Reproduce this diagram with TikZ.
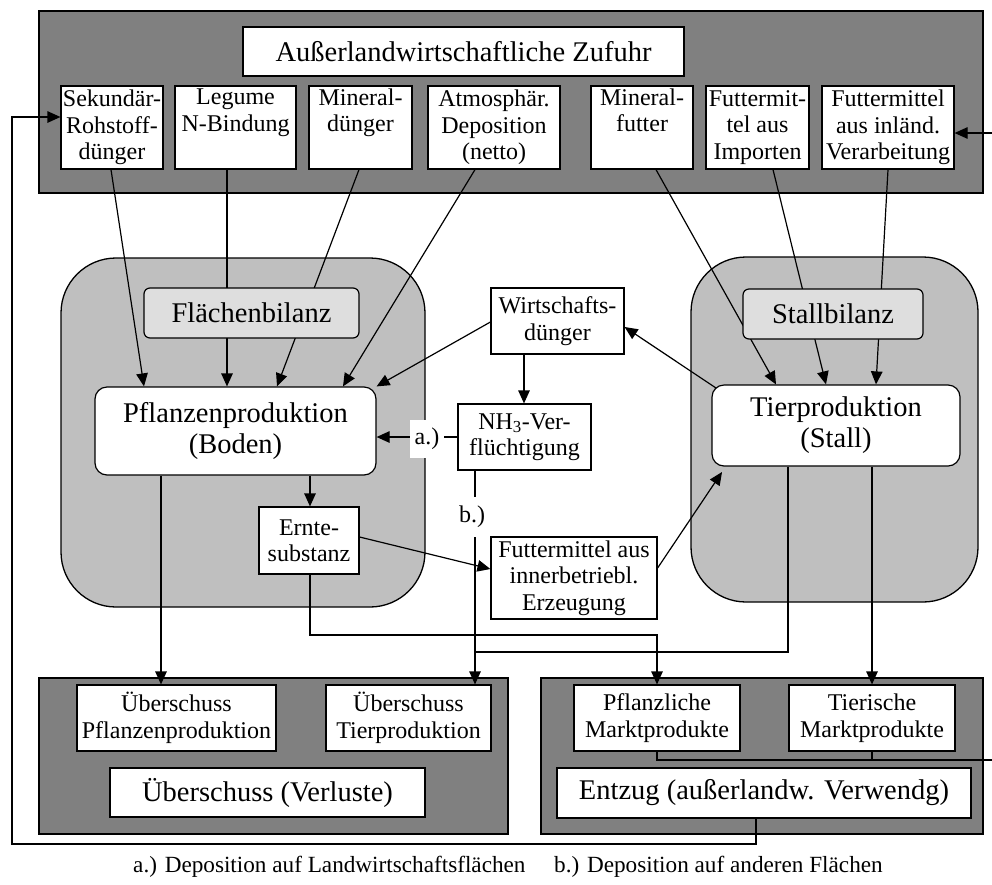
\documentclass[tikz,border=0pt]{standalone}
\usepackage{fontspec}
\setmainfont{Liberation Serif}
\usetikzlibrary{arrows.meta,calc}
\pgfdeclarelayer{back}
\pgfdeclarelayer{lines}
\pgfsetlayers{back,lines,main}
\newcommand{\fsS}{\fontsize{24}{26.5}\selectfont}
\newcommand{\fsB}{\fontsize{28.5}{31}\selectfont}
\newcommand{\fsL}{\fontsize{23.2}{26}\selectfont}
\begin{document}
\begin{tikzpicture}[x=1pt,y=-1pt,
  darkrect/.style={draw=black, line width=1.3pt, fill=black!50, inner sep=0pt},
  region/.style={draw=black, line width=1.3pt, fill=black!25, rounded corners=55pt, inner sep=0pt},
  box/.style={draw=black, line width=1.2pt, fill=white, inner sep=0pt, align=center, font=\fsS},
  bigbox/.style={box, font=\fsB},
  bilanz/.style={bigbox, fill=black!13, rounded corners=6pt},
  prodbox/.style={bigbox, rounded corners=12pt},
  conn/.style={line width=1.2pt, draw=black},
  >={Triangle[length=13pt,width=11.5pt]}]
\useasboundingbox (0,0) rectangle (992,884);

% background areas
\begin{pgfonlayer}{back}
\node[darkrect, minimum width=944, minimum height=182] (topbg) at (511,102) {};
\node[darkrect, minimum width=469, minimum height=156] (botL) at (273.5,756) {};
\node[darkrect, minimum width=442, minimum height=156] (botR) at (762,756) {};
\node[region, minimum width=364, minimum height=349] (regL) at (243,432.5) {};
\node[region, minimum width=287, minimum height=345] (regR) at (834.5,429.5) {};
\end{pgfonlayer}

% top
\node[bigbox, minimum width=441, minimum height=49] (title) at (463.5,51.5) {Außerlandwirtschaftliche Zufuhr};
\node[box, minimum width=102, minimum height=83] (sek) at (112,127.5) {Sekundär-\\Rohstoff-\\dünger};
\node[box, minimum width=121, minimum height=83] (leg) at (235.5,127.5) {Legume\\N-Bindung\\\strut};
\node[box, minimum width=103, minimum height=83] (mind) at (360.5,127.5) {Mineral-\\dünger\\\strut};
\node[box, minimum width=132, minimum height=83] (atm) at (494,127.5) {Atmosphär.\\Deposition\\(netto)};
\node[box, minimum width=102, minimum height=83] (minf) at (642,127.5) {Mineral-\\futter\\\strut};
\node[box, minimum width=103, minimum height=83] (fimp) at (757.5,127.5) {Futtermit-\\tel aus\\Importen};
\node[box, minimum width=132, minimum height=83] (finl) at (888,127.5) {Futtermittel\\aus inländ.\\Verarbeitung};

% middle
\node[bilanz, minimum width=215, minimum height=50] (fb) at (251.5,313) {Flächenbilanz};
\node[bilanz, minimum width=180, minimum height=50] (sb) at (833,314) {Stallbilanz};
\node[prodbox, minimum width=281, minimum height=88] (pp) at (235.5,431) {Pflanzenproduktion\\(Boden)};
\node[prodbox, minimum width=248, minimum height=81] (tp) at (836,425.5) {Tierproduktion\\(Stall)};
\node[box, minimum width=100, minimum height=67] (ernte) at (309,540.5) {Ernte-\\substanz};
\node[box, minimum width=133, minimum height=66] (wd) at (557.5,321) {Wirtschafts-\\dünger};
\node[box, minimum width=133, minimum height=66] (nh3) at (524.5,437) {NH\textsubscript{3}-Ver-\\flüchtigung};
\node[box, minimum width=166, minimum height=82] (fib) at (574,578) {Futtermittel aus\\innerbetriebl.\\Erzeugung};

% bottom
\node[box, minimum width=199, minimum height=66] (ueP) at (176.5,718) {Überschuss\\Pflanzenproduktion};
\node[box, minimum width=165, minimum height=66] (ueT) at (408.5,718) {Überschuss\\Tierproduktion};
\node[bigbox, minimum width=315, minimum height=49] (ueV) at (267.5,792.5) {Überschuss (Verluste)};
\node[box, minimum width=166, minimum height=66] (mkP) at (657,718) {Pflanzliche\\Marktprodukte};
\node[box, minimum width=166, minimum height=66] (mkT) at (872,718) {Tierische\\Marktprodukte};
\node[bigbox, minimum width=414, minimum height=50] (entz) at (764,793) {Entzug (außerlandw. Verwendg)};

% labels on connectors
\node[fill=white, inner sep=0pt, font=\fsS, minimum width=34, minimum height=38] (la) at (427,439) {a.)};
\node[fill=white, inner sep=0pt, font=\fsS, minimum width=28, minimum height=40] (lb) at (472,517) {b.)};

% legend
\node[font=\fsL, anchor=base west, inner sep=0pt] (lega) at (133,872) {a.) Deposition auf Landwirtschaftsflächen};
\node[font=\fsL, anchor=base west, inner sep=0pt] (legb) at (554,872) {b.) Deposition auf anderen Flächen};

% free ends
\coordinate (rin) at (992,133);
\coordinate (rout) at (992,760);
\coordinate (loopA) at (756,844);
\coordinate (loopB) at (12,844);
\coordinate (loopC) at (12,117);

\begin{pgfonlayer}{lines}
% loop from Entzug back to Sekundaer-Rohstoffduenger
\draw[conn,->] (756,0 |- entz.south) -- (loopA) -- (loopB) -- (loopC) -- (sek.west |- loopC);
% from right edge into Futtermittel aus inl. Verarbeitung
\draw[conn,->] (rin) -- (finl.east |- rin);
% into Pflanzenproduktion
\draw[conn,->] (111,0 |- sek.south) -- (144,0 |- pp.north);
\draw[conn,->] (227,0 |- leg.south) -- (227,0 |- pp.north);
\draw[conn,->] (359,0 |- mind.south) -- (277,0 |- pp.north);
\draw[conn,->] (475,0 |- atm.south) -- (343,0 |- pp.north);
\draw[conn,->] (wd.west |- 0,322) -- (pp.north east);
% Wirtschaftsduenger -> NH3
\draw[conn,->] (524,0 |- wd.south) -- (524,0 |- nh3.north);
% NH3 -> Pflanzenproduktion (a.)
\draw[conn,->] (nh3.west) -- (pp.east |- nh3.west);
% NH3 -> Ueberschuss Tierproduktion (b.)
\draw[conn,->] (475,0 |- nh3.south) -- (475,0 |- ueT.north);
% Pflanzenproduktion -> Erntesubstanz, Ueberschuss
\draw[conn,->] (310,0 |- pp.south) -- (310,0 |- ernte.north);
\draw[conn,->] (161,0 |- pp.south) -- (161,0 |- ueP.north);
% Erntesubstanz -> Futtermittel innerbetriebl.
\draw[conn,->] (ernte.east |- 0,537) -- (fib.west |- 0,569);
% Erntesubstanz -> Pflanzliche Marktprodukte
\draw[conn,->] (310,0 |- ernte.south) -- (310,635) -- (657,635) -- (mkP.north);
% Futtermittel innerbetriebl. -> Tierproduktion
\draw[conn,->] (fib.east |- 0,568) -- (722,472);
% Tierproduktion -> Wirtschaftsduenger
\draw[conn,->] (719,390) -- (wd.east |- 0,327);
% into Tierproduktion
\draw[conn,->] (656,0 |- minf.south) -- (776,0 |- tp.north);
\draw[conn,->] (773,0 |- fimp.south) -- (826,0 |- tp.north);
\draw[conn,->] (888,0 |- finl.south) -- (876,0 |- tp.north);
% Tierproduktion -> Ueberschuss Tierproduktion, Tierische Marktprodukte
\draw[conn] (788,0 |- tp.south) -- (788,652) -- (475,652);
\draw[conn,->] (872,0 |- tp.south) -- (mkT.north);
% Marktprodukte -> right edge
\draw[conn] (mkP.south) -- (657,760) -- (rout);
\draw[conn] (mkT.south) -- (872,760);
\end{pgfonlayer}
\end{tikzpicture}
\end{document}
